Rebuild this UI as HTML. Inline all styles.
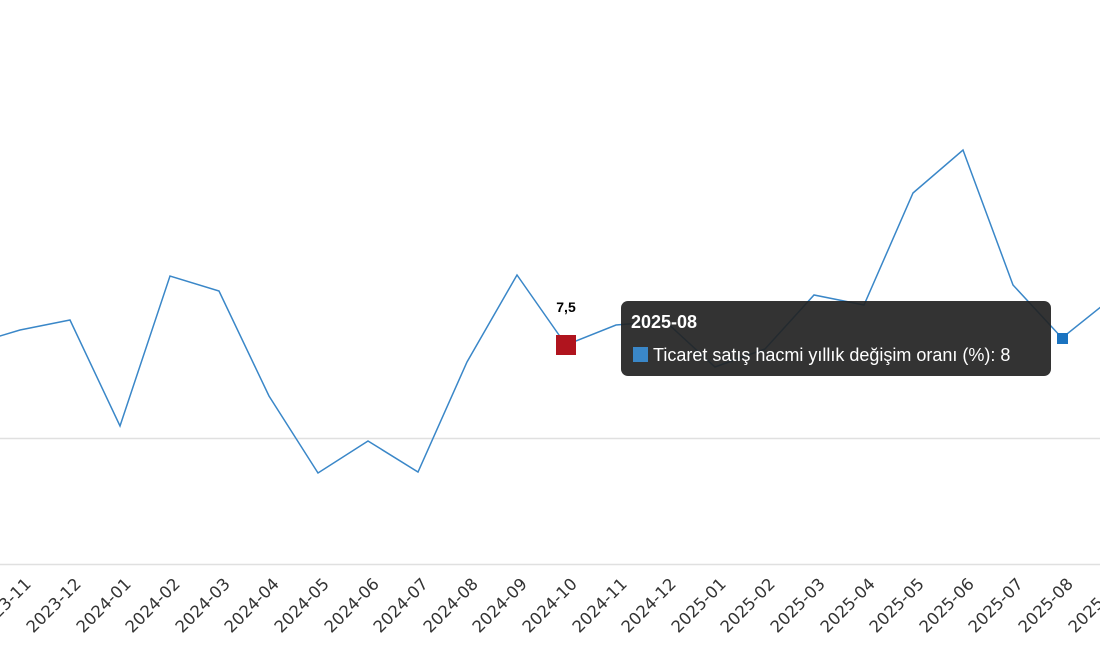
<!DOCTYPE html>
<html><head><meta charset="utf-8"><style>
body{margin:0;background:#fff;width:1100px;height:650px;overflow:hidden;font-family:"Liberation Sans",sans-serif}
</style></head><body>
<svg width="1100" height="650" viewBox="0 0 1100 650" xmlns="http://www.w3.org/2000/svg">
<line x1="0" y1="438.5" x2="1100" y2="438.5" stroke="#e0e0e0" stroke-width="1.5"/>
<line x1="0" y1="564.5" x2="1100" y2="564.5" stroke="#e0e0e0" stroke-width="1.5"/>
<polyline fill="none" stroke="#3a87c8" stroke-width="1.5" points="-30,345 20,330 70,320 120,426 170,276 219,291 269,396 318,473 368,441 418,472 467,362 517,275 566,345 616,325 665,321 715,367 765,349 814,295 864,305 913,193 963,150 1013,285 1062,338 1112,298"/>
<rect x="556" y="335" width="20" height="20" fill="#b0141e"/>
<rect x="1057" y="333" width="11" height="11" fill="#1a73c0"/>
<text x="566" y="312" font-size="14" font-weight="bold" text-anchor="middle" fill="#000">7,5</text>
<text x="1106" y="262" font-size="14" font-weight="bold" text-anchor="middle" fill="#000">8</text>
<g font-family="'DejaVu Sans',sans-serif" font-size="16.5" fill="#333" text-anchor="end">
<text transform="translate(32,585) rotate(-45)">2023-11</text>
<text transform="translate(82,585) rotate(-45)">2023-12</text>
<text transform="translate(132,585) rotate(-45)">2024-01</text>
<text transform="translate(181,585) rotate(-45)">2024-02</text>
<text transform="translate(231,585) rotate(-45)">2024-03</text>
<text transform="translate(280,585) rotate(-45)">2024-04</text>
<text transform="translate(330,585) rotate(-45)">2024-05</text>
<text transform="translate(380,585) rotate(-45)">2024-06</text>
<text transform="translate(429,585) rotate(-45)">2024-07</text>
<text transform="translate(479,585) rotate(-45)">2024-08</text>
<text transform="translate(528,585) rotate(-45)">2024-09</text>
<text transform="translate(578,585) rotate(-45)">2024-10</text>
<text transform="translate(628,585) rotate(-45)">2024-11</text>
<text transform="translate(677,585) rotate(-45)">2024-12</text>
<text transform="translate(727,585) rotate(-45)">2025-01</text>
<text transform="translate(776,585) rotate(-45)">2025-02</text>
<text transform="translate(826,585) rotate(-45)">2025-03</text>
<text transform="translate(876,585) rotate(-45)">2025-04</text>
<text transform="translate(925,585) rotate(-45)">2025-05</text>
<text transform="translate(975,585) rotate(-45)">2025-06</text>
<text transform="translate(1024,585) rotate(-45)">2025-07</text>
<text transform="translate(1074,585) rotate(-45)">2025-08</text>
<text transform="translate(1124,585) rotate(-45)">2025-09</text>
</g>
<rect x="621" y="301" width="430" height="75" rx="7" fill="#222" fill-opacity="0.92"/>
<text x="631" y="328" font-size="18" font-weight="bold" fill="#fff">2025-08</text>
<rect x="633" y="347" width="15" height="15" fill="#3a87c8"/>
<text x="653" y="361" font-size="18" fill="#fff">Ticaret satış hacmi yıllık değişim oranı (%): 8</text>
</svg>
</body></html>
